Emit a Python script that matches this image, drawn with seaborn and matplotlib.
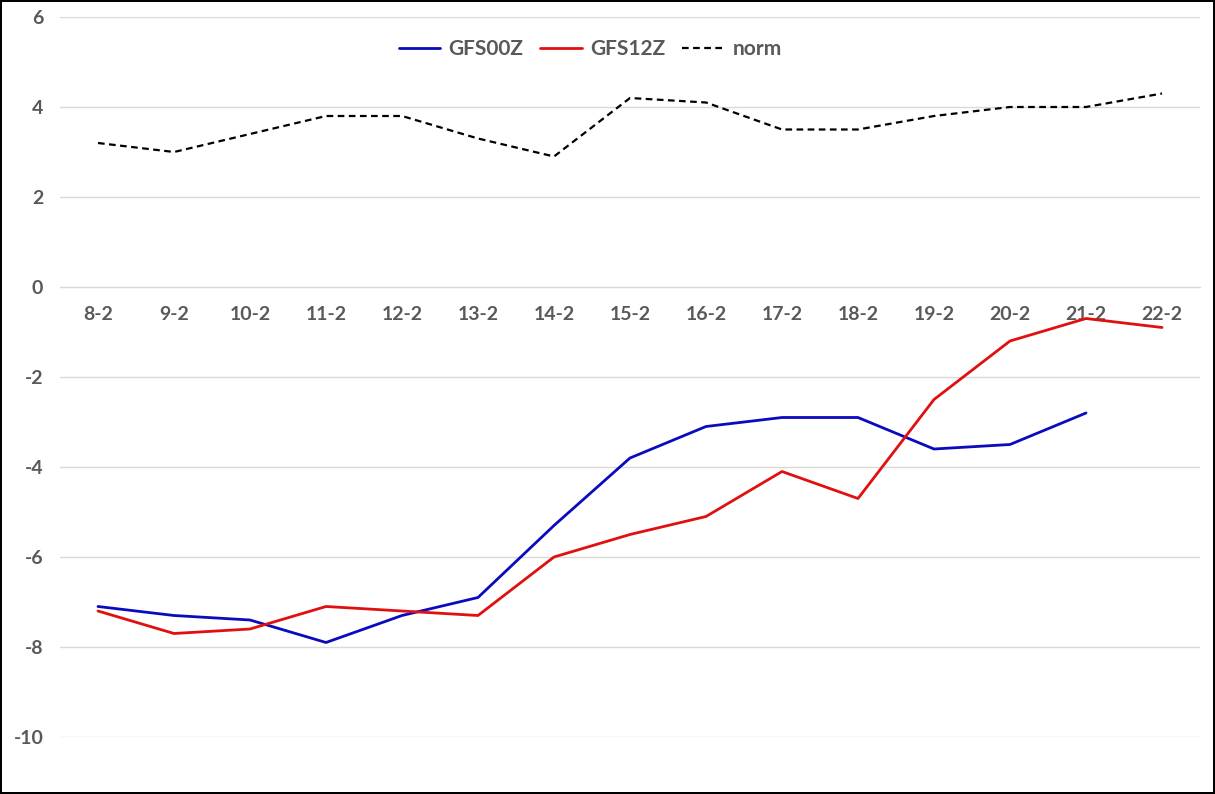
import matplotlib
matplotlib.use("Agg")
import matplotlib.pyplot as plt
from matplotlib.font_manager import FontProperties
import numpy as np
import pandas as pd
import seaborn as sns

dates = ["8-2", "9-2", "10-2", "11-2", "12-2", "13-2", "14-2", "15-2",
         "16-2", "17-2", "18-2", "19-2", "20-2", "21-2", "22-2"]
gfs00z = [-7.1, -7.3, -7.4, -7.9, -7.3, -6.9, -5.3, -3.8, -3.1, -2.9, -2.9,
          -3.6, -3.5, -2.8, np.nan]
gfs12z = [-7.2, -7.7, -7.6, -7.1, -7.2, -7.3, -6.0, -5.5, -5.1, -4.1, -4.7,
          -2.5, -1.2, -0.7, -0.9]
norm = [3.2, 3.0, 3.4, 3.8, 3.8, 3.3, 2.9, 4.2, 4.1, 3.5, 3.5, 3.8, 4.0,
        4.0, 4.3]
yticks = list(range(-10, 7, 2))

sns.set_style("white")
plt.rcParams["font.family"] = ["Lato", "DejaVu Sans"]
bold = FontProperties(family=["Lato", "DejaVu Sans"], weight=700, size=14)

pos = np.arange(len(dates))
df = pd.DataFrame({"x": pos, "GFS00Z": gfs00z, "GFS12Z": gfs12z, "norm": norm})

fig = plt.figure(figsize=(12.15, 7.94), dpi=100)
fig.patch.set_edgecolor("black")
fig.patch.set_linewidth(1.5)
ax = fig.add_axes([60 / 1215, 1 - 737 / 794, 1140 / 1215, 720 / 794])

sns.lineplot(data=df, x="x", y="GFS00Z", color="#0A0ABF", lw=2, label="GFS00Z", ax=ax)
sns.lineplot(data=df, x="x", y="GFS12Z", color="#E01010", lw=2, label="GFS12Z", ax=ax)
sns.lineplot(data=df, x="x", y="norm", color="black", lw=1.6, ls=(0, (3, 2)), label="norm", ax=ax)

# spine first: moving it resets tick styling
for s in ["top", "right", "left"]:
    ax.spines[s].set_visible(False)
ax.spines["bottom"].set_position(("data", 0))
ax.spines["bottom"].set_color("#D9D9D9")

ax.set_xlim(-0.5, len(dates) - 0.5)
ax.set_ylim(-10, 6)
ax.yaxis.grid(True, color="#D9D9D9", lw=1)
ax.set_axisbelow(True)
ax.set_xticks(np.arange(-0.5, len(dates), 1), minor=True)
ax.tick_params(axis="x", which="major", length=0, pad=14)
ax.tick_params(axis="x", which="minor", length=6, color="#D9D9D9", direction="out")
ax.tick_params(axis="y", length=0, pad=12)

ax.set_yticks(yticks)
ax.set_yticklabels([str(v) for v in yticks], fontproperties=bold, color="#595959")
ax.set_xticks(pos)
ax.set_xticklabels(dates, fontproperties=bold, color="#595959")
ax.set_xlabel("")
ax.set_ylabel("")

leg = ax.legend(loc="upper center", bbox_to_anchor=(0.465, 0.995), ncol=3, frameon=False,
                prop=FontProperties(family=["Lato", "DejaVu Sans"], weight=700, size=15),
                handlelength=2.0, columnspacing=0.8, handletextpad=0.4)
for t in leg.get_texts():
    t.set_color("#595959")

fig.savefig("out.png", dpi=100)
